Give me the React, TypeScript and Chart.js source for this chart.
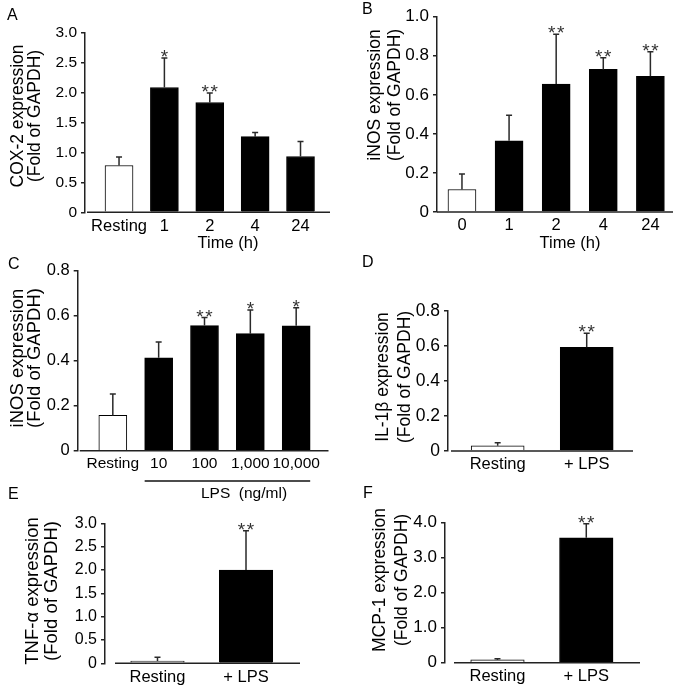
import React, { useEffect, useRef } from 'react';
import { Chart, registerables } from 'chart.js';

Chart.register(...registerables);

const FONT = "'Liberation Sans', Arial, Helvetica, sans-serif";

// ---------- Panel A: COX-2 time course ----------
const aCategories = ['Resting', '1', '2', '4', '24'];
const aMeans = [0.78, 2.08, 1.83, 1.26, 0.93];
const aErrors = [0.14, 0.49, 0.16, 0.07, 0.25];
const aStars = ['', '*', '**', '', ''];

// ---------- Panel B: iNOS time course ----------
const bCategories = ['0', '1', '2', '4', '24'];
const bMeans = [0.115, 0.365, 0.655, 0.73, 0.695];
const bErrors = [0.08, 0.13, 0.255, 0.06, 0.125];
const bStars = ['', '', '**', '**', '**'];

// ---------- Panel C: iNOS LPS dose ----------
const cCategories = ['Resting', '10', '100', '1,000', '10,000'];
const cMeans = [0.157, 0.413, 0.556, 0.52, 0.555];
const cErrors = [0.095, 0.07, 0.036, 0.105, 0.08];
const cStars = ['', '', '**', '*', '*'];

// ---------- Panel D: IL-1β ----------
const dCategories = ['Resting', '+ LPS'];
const dMeans = [0.03, 0.593];
const dErrors = [0.017, 0.08];
const dStars = ['', '**'];

// ---------- Panel E: TNF-α ----------
const eCategories = ['Resting', '+ LPS'];
const eMeans = [0.05, 2.0];
const eErrors = [0.08, 0.84];
const eStars = ['', '**'];

// ---------- Panel F: MCP-1 ----------
const fCategories = ['Resting', '+ LPS'];
const fMeans = [0.08, 3.57];
const fErrors = [0.03, 0.4];
const fStars = ['', '**'];

type Layout = {
  left: number; top: number; right: number; bottom: number;
  xMin: number; xMax: number; barWidth: number; axisGap: number;
  yFont: number; xFont: number; titleFont: number;
  titleX: number[]; titleY: number;
  letterX: number; letterY: number;
  caption?: { text: string; x: number; y: number };
  bracket?: { from: number; to: number; y: number };
};

type Panel = {
  id: string;
  categories: string[];
  means: number[];
  errors: number[];
  stars: string[];
  yMax: number;
  yStep: number;
  yTitle: string[];
  layout: Layout;
};

const panels: Panel[] = [
  {
    id: 'A', categories: aCategories, means: aMeans, errors: aErrors, stars: aStars,
    yMax: 3, yStep: 0.5, yTitle: ['COX-2 expression', '(Fold of GAPDH)'],
    layout: {
      left: 85, top: 32.3, right: 330, bottom: 212.3, xMin: -0.75, xMax: 4.65, barWidth: 28, axisGap: 2,
      yFont: 15.5, xFont: 16.5, titleFont: 17.5, titleX: [18, 35], titleY: 116, letterX: 7, letterY: 20,
      caption: { text: 'Time (h)', x: 228, y: 243 },
    },
  },
  {
    id: 'B', categories: bCategories, means: bMeans, errors: bErrors, stars: bStars,
    yMax: 1, yStep: 0.2, yTitle: ['iNOS expression', '(Fold of GAPDH)'],
    layout: {
      left: 437, top: 16.7, right: 673, bottom: 212, xMin: -0.53, xMax: 4.48, barWidth: 28, axisGap: 0,
      yFont: 17, xFont: 16.5, titleFont: 17.5, titleX: [375, 395], titleY: 95, letterX: 362, letterY: 14,
      caption: { text: 'Time (h)', x: 570, y: 243 },
    },
  },
  {
    id: 'C', categories: cCategories, means: cMeans, errors: cErrors, stars: cStars,
    yMax: 0.8, yStep: 0.2, yTitle: ['iNOS expression', '(Fold of GAPDH)'],
    layout: {
      left: 77.7, top: 270.7, right: 328.5, bottom: 450.7, xMin: -0.766, xMax: 4.705, barWidth: 28, axisGap: 2,
      yFont: 16.5, xFont: 15.5, titleFont: 18.5, titleX: [17.5, 35], titleY: 358, letterX: 8, letterY: 269,
      caption: { text: 'LPS  (ng/ml)', x: 244, y: 494 },
      bracket: { from: 1, to: 4, y: 481 },
    },
  },
  {
    id: 'D', categories: dCategories, means: dMeans, errors: dErrors, stars: dStars,
    yMax: 0.8, yStep: 0.2, yTitle: ['IL-1β expression', '(Fold of GAPDH)'],
    layout: {
      left: 448, top: 311, right: 633, bottom: 451, xMin: -0.558, xMax: 1.52, barWidth: 53, axisGap: 3,
      yFont: 17.5, xFont: 16.5, titleFont: 17.5, titleX: [383, 405], titleY: 377, letterX: 362, letterY: 267,
    },
  },
  {
    id: 'E', categories: eCategories, means: eMeans, errors: eErrors, stars: eStars,
    yMax: 3, yStep: 0.5, yTitle: ['TNF-α expression', '(Fold of GAPDH)'],
    layout: {
      left: 105, top: 523.3, right: 300, bottom: 663.3, xMin: -0.593, xMax: 1.61, barWidth: 53.5, axisGap: 10,
      yFont: 16, xFont: 16.5, titleFont: 18.5, titleX: [33, 52], titleY: 591, letterX: 8, letterY: 499,
    },
  },
  {
    id: 'F', categories: fCategories, means: fMeans, errors: fErrors, stars: fStars,
    yMax: 4, yStep: 1, yTitle: ['MCP-1 expression', '(Fold of GAPDH)'],
    layout: {
      left: 445, top: 522.7, right: 640, bottom: 662.7, xMin: -0.591, xMax: 1.605, barWidth: 53.5, axisGap: 9,
      yFont: 17, xFont: 16.5, titleFont: 17.5, titleX: [380, 402], titleY: 580, letterX: 363, letterY: 498,
    },
  },
];

const W = 686;
const H = 690;
const Y_W = 50;
const X_H = 30;
const AXIS_COLOR = '#222';

function overlayPlugin(p: Panel) {
  return {
    id: 'overlay' + p.id,
    afterDatasetsDraw(chart: any) {
      const { ctx, chartArea: a } = chart;
      const y = chart.scales.y;
      const L = p.layout;
      ctx.save();

      // x axis line
      ctx.strokeStyle = AXIS_COLOR;
      ctx.lineWidth = 1.5;
      ctx.beginPath();
      ctx.moveTo(a.left + L.axisGap, a.bottom);
      ctx.lineTo(a.right, a.bottom);
      ctx.stroke();

      // error bars + stars
      const meta = chart.getDatasetMeta(0);
      meta.data.forEach((el: any, i: number) => {
        const x = el.x;
        const yTop = el.y;
        const yErr = y.getPixelForValue(p.means[i] + p.errors[i]);
        ctx.strokeStyle = '#2a2a2a';
        ctx.lineWidth = 1.5;
        ctx.beginPath();
        ctx.moveTo(x, yTop);
        ctx.lineTo(x, yErr);
        ctx.moveTo(x - 3, yErr);
        ctx.lineTo(x + 3, yErr);
        ctx.stroke();

        const s = p.stars[i];
        if (s) {
          ctx.fillStyle = '#333';
          ctx.font = `19px ${FONT}`;
          ctx.textAlign = 'center';
          ctx.textBaseline = 'alphabetic';
          const n = s.length;
          for (let k = 0; k < n; k++) {
            const cx = x + (k - (n - 1) / 2) * 9;
            ctx.fillText('*', cx, yErr + 5);
          }
        }
      });

      // bracket line (panel C)
      if (L.bracket) {
        const e1: any = meta.data[L.bracket.from];
        const e2: any = meta.data[L.bracket.to];
        ctx.strokeStyle = '#111';
        ctx.lineWidth = 1.5;
        ctx.beginPath();
        ctx.moveTo(e1.x - e1.width / 2, L.bracket.y);
        ctx.lineTo(e2.x + e2.width / 2, L.bracket.y);
        ctx.stroke();
      }

      ctx.fillStyle = '#000';
      // caption
      if (L.caption) {
        ctx.font = `${L.xFont}px ${FONT}`;
        ctx.textAlign = 'center';
        ctx.textBaseline = 'middle';
        ctx.fillText(L.caption.text, L.caption.x, L.caption.y);
      }

      // y title (two rotated lines)
      ctx.font = `${L.titleFont}px ${FONT}`;
      ctx.textAlign = 'center';
      ctx.textBaseline = 'middle';
      p.yTitle.forEach((t, k) => {
        ctx.save();
        ctx.translate(L.titleX[k], L.titleY);
        ctx.rotate(-Math.PI / 2);
        ctx.fillText(t, 0, 0);
        ctx.restore();
      });

      // panel letter
      ctx.font = `16px ${FONT}`;
      ctx.textAlign = 'left';
      ctx.textBaseline = 'alphabetic';
      ctx.fillText(p.id, L.letterX, L.letterY);

      ctx.restore();
    },
  };
}

function makeChart(canvas: HTMLCanvasElement, p: Panel) {
  const L = p.layout;
  return new Chart(canvas, {
    type: 'bar',
    data: {
      datasets: [
        {
          data: p.means.map((v, i) => ({ x: i, y: v })),
          backgroundColor: p.means.map((_, i) => (i === 0 ? '#ffffff' : '#000000')),
          borderColor: '#000000',
          borderWidth: 1,
          borderSkipped: 'start',
          barThickness: L.barWidth,
        } as any,
      ],
    },
    options: {
      responsive: false,
      animation: false,
      events: [],
      layout: {
        padding: {
          left: L.left - Y_W,
          top: L.top,
          right: W - L.right,
          bottom: H - L.bottom - X_H,
        },
      },
      plugins: { legend: { display: false }, tooltip: { enabled: false } },
      scales: {
        x: {
          type: 'linear',
          offset: false,
          min: L.xMin,
          max: L.xMax,
          afterFit: (s: any) => { s.height = X_H; },
          grid: { display: false, drawTicks: false, offset: false },
          border: { display: false },
          ticks: {
            stepSize: 1,
            includeBounds: false,
            autoSkip: false,
            maxRotation: 0,
            padding: 4,
            color: '#000',
            font: { family: FONT, size: L.xFont },
            callback: (v: any) => (Number.isInteger(v) && p.categories[v] !== undefined ? p.categories[v] : ''),
          },
        },
        y: {
          type: 'linear',
          min: 0,
          max: p.yMax,
          afterFit: (s: any) => { s.width = Y_W; },
          grid: { display: true, drawOnChartArea: false, drawTicks: true, tickLength: 4, color: AXIS_COLOR, lineWidth: 1.5 },
          border: { display: true, color: AXIS_COLOR, width: 1.5 },
          ticks: {
            stepSize: p.yStep,
            padding: 4,
            color: '#000',
            font: { family: FONT, size: L.yFont },
            callback: (v: any) => (Math.abs(v) < 1e-9 ? '0' : Number(v).toFixed(1)),
          },
        },
      },
    } as any,
    plugins: [overlayPlugin(p)],
  });
}

function PanelChart({ p }: { p: Panel }) {
  const ref = useRef<HTMLCanvasElement | null>(null);
  useEffect(() => {
    if (!ref.current) return;
    const c = makeChart(ref.current, p);
    return () => c.destroy();
  }, [p]);
  return (
    <canvas
      ref={ref}
      width={W}
      height={H}
      style={{ position: 'absolute', left: 0, top: 0, width: W, height: H, pointerEvents: 'none' }}
    />
  );
}

export default function App() {
  return (
    <div style={{ position: 'fixed', left: 0, top: 0, width: W, height: H, background: '#fff', overflow: 'hidden' }}>
      {panels.map((p) => (
        <PanelChart key={p.id} p={p} />
      ))}
    </div>
  );
}
